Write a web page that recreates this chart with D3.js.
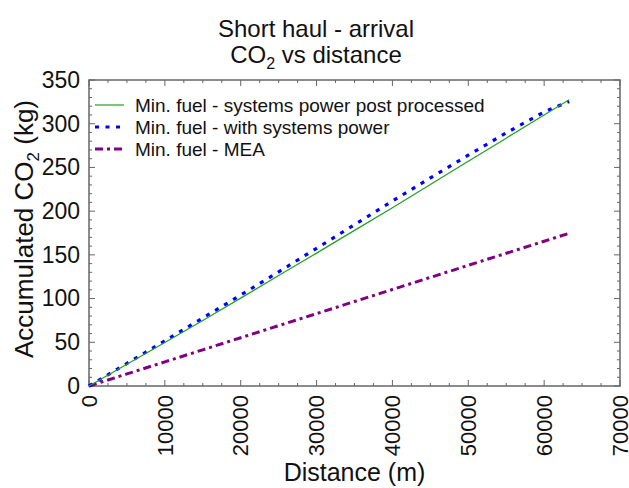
<!DOCTYPE html>
<html><head><meta charset="utf-8">
<script src="https://cdn.jsdelivr.net/npm/d3@7"></script>
<style>body{margin:0;background:#fff}svg{display:block;font-family:"Liberation Sans",Arial,sans-serif}</style>
</head><body><svg id="c" width="629" height="488"></svg>
<script>
const distance = [0,5000,10000,15000,20000,25000,30000,35000,40000,45000,50000,55000,60000,63300];
const postProcessed = [0,24.8,49.8,75,100.5,126.3,152,178,204,230.5,257,283.5,310,327.5];
const withSystems = [0,25.8,51.7,77.8,104,130.5,157.5,184.5,211.5,238,264,289.5,313.5,325.5];
const mea = [0,13.8,27.6,41.4,55.2,69,82.8,96.6,110.4,124.2,138,151.8,165.6,174.7];
const seriesNames = ["Min. fuel - systems power post processed","Min. fuel - with systems power","Min. fuel - MEA"];
const xTicks = [0,10000,20000,30000,40000,50000,60000,70000];
const yTicks = [0,50,100,150,200,250,300,350];

const svg = d3.select("#c");
const L=89,R=620,T=80,B=386;
const x = d3.scaleLinear().domain([0,70000]).range([L,R]);
const y = d3.scaleLinear().domain([0,350]).range([B,T]);
const frame="#666";
const FF="Liberation Sans, Arial, sans-serif";

const xMinor = d3.range(0,70001,2500), yMinor = d3.range(0,351,10);
const tg = svg.append("g").attr("stroke",frame).attr("stroke-width",1);
xMinor.forEach(v=>{const len = v%10000===0?6:3;
  tg.append("line").attr("x1",x(v)).attr("x2",x(v)).attr("y1",B).attr("y2",B-len);
  tg.append("line").attr("x1",x(v)).attr("x2",x(v)).attr("y1",T).attr("y2",T+len);});
yMinor.forEach(v=>{const len = v%50===0?6:3;
  tg.append("line").attr("y1",y(v)).attr("y2",y(v)).attr("x1",L).attr("x2",L+len);
  tg.append("line").attr("y1",y(v)).attr("y2",y(v)).attr("x1",R).attr("x2",R-len);});

svg.append("rect").attr("x",L).attr("y",T).attr("width",R-L).attr("height",B-T)
  .attr("fill","none").attr("stroke",frame).attr("stroke-width",1.5);

const ya = svg.append("g").attr("transform",`translate(${L},0)`)
  .call(d3.axisLeft(y).tickValues(yTicks).tickSize(0).tickPadding(9).tickFormat(d3.format("d")));
ya.select(".domain").remove();
ya.selectAll("text").attr("font-size",23).attr("fill","#111").attr("font-family",FF);

const xa = svg.append("g").attr("transform",`translate(0,${B})`)
  .call(d3.axisBottom(x).tickValues(xTicks).tickSize(0).tickFormat(d3.format("d")));
xa.select(".domain").remove();
xa.selectAll("text").attr("font-size",22).attr("fill","#111").attr("font-family",FF)
  .attr("transform","rotate(-90)").attr("text-anchor","end").attr("x",-9).attr("y",0).attr("dy","0.33em");

const line = vals => d3.line().x((d,i)=>x(distance[i])).y((d,i)=>y(vals[i]))(vals);
const g = svg.append("g");
g.append("path").attr("d",line(mea)).attr("fill","none").attr("stroke","#800080").attr("stroke-width",3).attr("stroke-dasharray","8,4,3,4");
g.append("path").attr("d",line(withSystems)).attr("fill","none").attr("stroke","#0000ff").attr("stroke-width",3.2).attr("stroke-dasharray","4,6.5");
g.append("path").attr("d",line(postProcessed)).attr("fill","none").attr("stroke","#22a022").attr("stroke-width",1.2);

const leg = [{c:"#22a022",w:1.2,d:null},{c:"#0000ff",w:3.2,d:"4,6.5"},{c:"#800080",w:3,d:"8,4,3,4"}];
const legY=[105,127,149];
leg.forEach((s,i)=>{
  svg.append("line").attr("x1",95).attr("x2",124).attr("y1",legY[i]).attr("y2",legY[i])
   .attr("stroke",s.c).attr("stroke-width",s.w).attr("stroke-dasharray",s.d);
  svg.append("text").attr("x",135).attr("y",legY[i]).attr("dy","0.35em").attr("font-size",19).attr("fill","#111").text(seriesNames[i]);
});

svg.append("text").attr("x",316).attr("y",37).attr("text-anchor","middle").attr("font-size",24).attr("fill","#111").text("Short haul - arrival");
const t2 = svg.append("text").attr("x",316).attr("y",63).attr("text-anchor","middle").attr("font-size",24).attr("fill","#111");
t2.append("tspan").text("CO");
t2.append("tspan").attr("font-size",16).attr("dy",6).text("2");
t2.append("tspan").attr("dy",-6).text(" vs distance");

svg.append("text").attr("x",(L+R)/2).attr("y",481).attr("text-anchor","middle").attr("font-size",25).attr("fill","#111").text("Distance (m)");
const yt = svg.append("text").attr("transform",`translate(33,229) rotate(-90)`).attr("text-anchor","middle").attr("font-size",26).attr("fill","#111");
yt.append("tspan").text("Accumulated CO");
yt.append("tspan").attr("font-size",17).attr("dy",6).text("2");
yt.append("tspan").attr("dy",-6).text(" (kg)");
</script></body></html>
